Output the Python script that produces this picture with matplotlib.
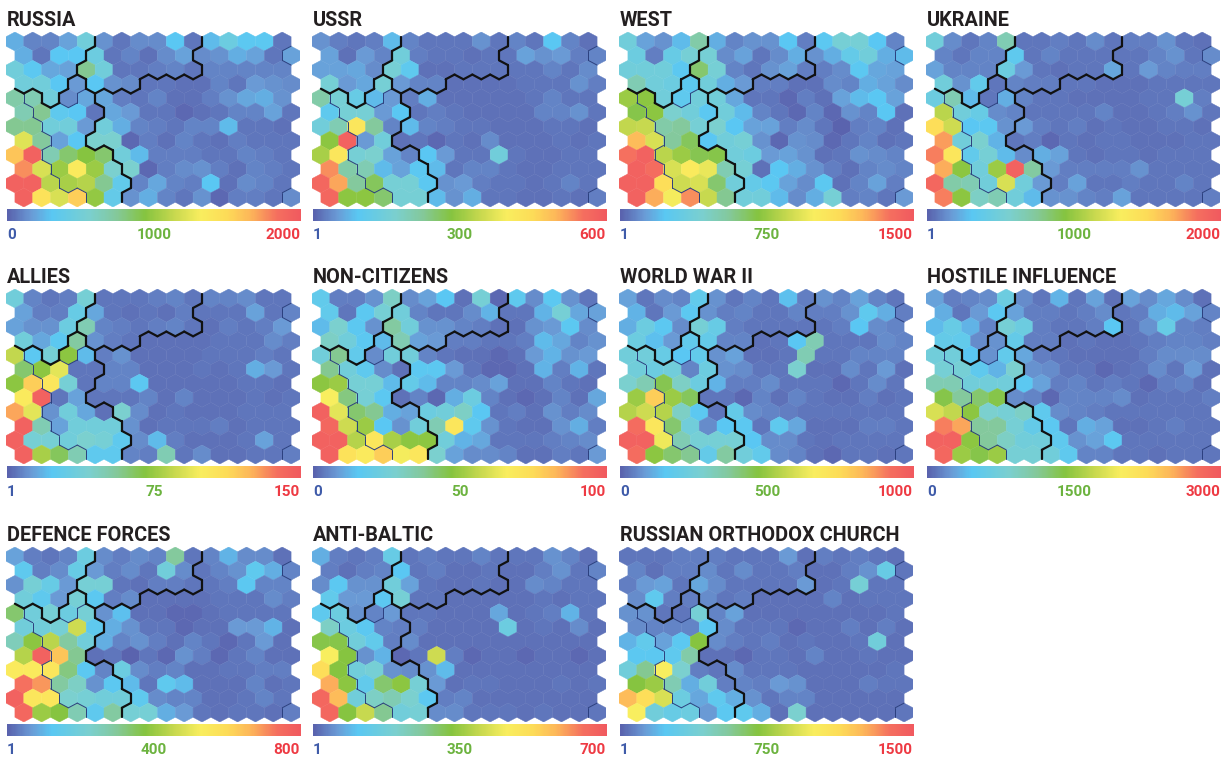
import matplotlib
matplotlib.use("Agg")
import matplotlib.pyplot as plt
import numpy as np
from matplotlib.collections import LineCollection, PolyCollection
from matplotlib.colors import LinearSegmentedColormap

russia = [
    [11, 5, 5, 9, 24, 7, 3, 6, 6, 15, 3, 13, 22, 16, 16, 3],
    [11, 3, 15, 15, 22, 3, 5, 2, 6, 9, 6, 7, 11, 9, 3, 9],
    [24, 16, 10, 9, 38, 24, 3, 3, 4, 5, 3, 5, 5, 5, 5, 5],
    [24, 24, 15, 8, 15, 7, 6, 3, 3, 2, 2, 5, 3, 8, 7, 6],
    [35, 33, 24, 6, 10, 10, 4, 3, 5, 2, 2, 4, 7, 10, 11, 7],
    [33, 38, 17, 15, 3, 10, 8, 3, 3, 1, 2, 3, 5, 5, 9, 3],
    [38, 38, 24, 24, 8, 24, 11, 5, 4, 3, 5, 5, 13, 3, 3, 2],
    [61, 37, 9, 15, 28, 28, 1, 4, 2, 5, 3, 2, 4, 3, 3, 3],
    [80, 97, 33, 42, 47, 42, 24, 13, 4, 4, 4, 3, 3, 5, 4, 3],
    [88, 60, 50, 68, 50, 28, 28, 1, 4, 6, 7, 4, 2, 5, 4, 3],
    [97, 97, 55, 52, 54, 38, 18, 5, 10, 5, 4, 15, 2, 6, 5, 3],
    [97, 72, 60, 78, 49, 19, 7, 11, 5, 3, 7, 1, 4, 4, 3, 6],
]
ussr = [
    [7, 4, 3, 4, 13, 5, 3, 3, 3, 7, 3, 5, 3, 15, 5, 2],
    [9, 2, 8, 5, 24, 4, 3, 3, 2, 3, 3, 9, 7, 8, 4, 5],
    [9, 9, 10, 6, 26, 17, 2, 2, 3, 3, 3, 3, 3, 5, 3, 6],
    [26, 8, 10, 26, 8, 5, 5, 2, 2, 2, 2, 3, 3, 3, 7, 4],
    [35, 26, 20, 13, 8, 4, 11, 2, 2, 2, 2, 2, 3, 5, 3, 3],
    [17, 26, 26, 8, 15, 3, 4, 3, 2, 2, 2, 2, 5, 5, 7, 3],
    [24, 33, 70, 37, 5, 13, 5, 4, 3, 3, 2, 2, 2, 3, 3, 2],
    [48, 97, 8, 24, 2, 3, 1, 3, 2, 6, 2, 2, 2, 3, 2, 3],
    [52, 70, 26, 28, 9, 5, 15, 8, 3, 3, 24, 3, 2, 2, 3, 3],
    [88, 35, 33, 13, 9, 16, 13, 3, 5, 5, 3, 2, 2, 3, 3, 3],
    [95, 85, 37, 44, 26, 26, 16, 7, 8, 4, 3, 3, 2, 3, 5, 3],
    [95, 48, 48, 42, 26, 26, 13, 7, 11, 3, 3, 2, 2, 3, 2, 4],
]
west = [
    [24, 9, 7, 13, 35, 11, 5, 7, 7, 15, 4, 16, 26, 26, 15, 5],
    [22, 4, 20, 26, 26, 6, 9, 3, 6, 11, 7, 11, 19, 24, 11, 13],
    [24, 24, 24, 16, 42, 26, 5, 3, 7, 9, 4, 4, 6, 16, 10, 9],
    [33, 24, 22, 16, 24, 11, 8, 4, 4, 2, 2, 6, 5, 11, 9, 6],
    [50, 48, 24, 17, 24, 24, 10, 3, 3, 1, 4, 2, 9, 13, 15, 9],
    [46, 48, 28, 24, 16, 24, 13, 5, 3, 1, 5, 1, 7, 5, 15, 2],
    [56, 57, 35, 37, 26, 28, 15, 9, 9, 4, 6, 3, 0, 4, 5, 2],
    [82, 60, 37, 44, 15, 24, 26, 7, 1, 7, 6, 1, 3, 5, 2, 3],
    [92, 97, 55, 50, 45, 46, 24, 22, 8, 9, 7, 2, 3, 7, 6, 5],
    [97, 93, 60, 68, 63, 33, 26, 2, 15, 11, 7, 4, 2, 5, 6, 5],
    [97, 97, 74, 58, 60, 42, 24, 19, 16, 9, 6, 16, 2, 5, 9, 4],
    [97, 84, 65, 88, 57, 38, 24, 24, 13, 6, 11, 26, 4, 5, 3, 8],
]
ukraine = [
    [24, 6, 3, 5, 33, 3, 3, 4, 3, 6, 3, 4, 4, 7, 3, 2],
    [5, 3, 5, 5, 17, 3, 5, 3, 3, 3, 3, 3, 5, 7, 3, 6],
    [9, 5, 5, 5, 22, 8, 3, 2, 3, 3, 10, 3, 8, 5, 4, 4],
    [24, 7, 18, 3, 5, 4, 4, 3, 3, 2, 2, 2, 3, 3, 3, 3],
    [22, 33, 13, 3, 11, 5, 3, 3, 2, 2, 2, 2, 3, 3, 26, 4],
    [55, 24, 20, 6, 5, 3, 3, 3, 3, 5, 2, 2, 3, 4, 7, 3],
    [74, 58, 15, 16, 7, 8, 4, 3, 4, 2, 3, 2, 2, 3, 3, 2],
    [86, 24, 28, 12, 3, 4, 1, 3, 2, 3, 3, 2, 2, 2, 3, 3],
    [90, 70, 18, 26, 13, 6, 11, 9, 3, 2, 3, 3, 2, 3, 3, 3],
    [84, 48, 24, 50, 97, 36, 8, 4, 4, 4, 4, 7, 3, 3, 3, 3],
    [95, 35, 33, 24, 60, 24, 8, 4, 9, 3, 3, 4, 3, 3, 5, 3],
    [90, 48, 30, 33, 24, 13, 7, 7, 5, 4, 9, 3, 3, 3, 3, 4],
]
allies = [
    [24, 5, 3, 4, 26, 3, 3, 3, 4, 5, 3, 5, 5, 6, 3, 3],
    [9, 4, 4, 20, 10, 3, 2, 3, 2, 4, 3, 3, 3, 9, 3, 5],
    [9, 7, 7, 22, 33, 5, 4, 3, 4, 5, 3, 2, 4, 3, 4, 8],
    [24, 10, 16, 36, 7, 4, 3, 2, 2, 2, 2, 3, 3, 3, 6, 4],
    [56, 16, 26, 48, 13, 4, 7, 2, 2, 2, 2, 3, 3, 3, 4, 3],
    [42, 48, 62, 3, 3, 5, 5, 2, 2, 2, 3, 2, 3, 11, 8, 3],
    [48, 78, 70, 26, 3, 5, 5, 16, 2, 2, 2, 2, 2, 3, 3, 2],
    [68, 97, 3, 9, 3, 3, 3, 5, 2, 5, 2, 2, 2, 3, 2, 3],
    [85, 62, 7, 24, 10, 2, 28, 6, 2, 3, 2, 2, 2, 3, 3, 3],
    [97, 33, 9, 24, 24, 24, 7, 2, 3, 3, 3, 4, 2, 3, 3, 3],
    [97, 26, 26, 24, 28, 26, 17, 6, 13, 4, 2, 2, 2, 3, 9, 3],
    [97, 52, 44, 33, 17, 17, 5, 4, 33, 3, 6, 2, 2, 3, 3, 4],
]
non_citizens = [
    [18, 4, 4, 7, 30, 6, 9, 15, 2, 26, 1, 17, 6, 16, 7, 3],
    [18, 3, 16, 26, 24, 5, 3, 3, 6, 12, 3, 3, 12, 26, 10, 9],
    [13, 28, 16, 7, 36, 24, 7, 7, 5, 4, 2, 2, 7, 8, 16, 6],
    [30, 24, 16, 13, 33, 9, 8, 4, 4, 3, 3, 4, 13, 10, 5, 7],
    [24, 38, 18, 6, 24, 24, 5, 3, 2, 2, 1, 2, 8, 12, 7, 8],
    [38, 24, 17, 6, 2, 16, 16, 8, 3, 1, 1, 2, 12, 4, 12, 3],
    [48, 50, 26, 26, 13, 19, 13, 5, 5, 6, 9, 2, 2, 5, 3, 2],
    [66, 40, 26, 16, 2, 5, 1, 11, 22, 5, 2, 1, 2, 5, 2, 10],
    [97, 62, 42, 38, 11, 9, 22, 24, 30, 15, 3, 4, 2, 7, 4, 6],
    [95, 58, 50, 15, 7, 24, 33, 70, 17, 7, 3, 2, 2, 7, 11, 4],
    [97, 97, 54, 70, 52, 48, 48, 24, 12, 10, 3, 3, 3, 4, 5, 6],
    [97, 72, 68, 78, 65, 70, 28, 9, 6, 6, 5, 2, 2, 4, 3, 8],
]
world_war = [
    [9, 3, 6, 5, 18, 7, 3, 5, 3, 14, 4, 7, 5, 9, 5, 3],
    [12, 3, 8, 16, 7, 4, 5, 3, 3, 5, 4, 4, 7, 17, 11, 4],
    [11, 22, 16, 6, 26, 20, 4, 3, 3, 3, 3, 3, 4, 15, 6, 5],
    [22, 14, 8, 18, 19, 5, 5, 2, 3, 15, 33, 3, 3, 3, 6, 5],
    [24, 24, 20, 15, 18, 7, 9, 2, 2, 3, 33, 3, 3, 5, 5, 5],
    [24, 22, 24, 5, 22, 7, 6, 3, 3, 28, 2, 2, 6, 3, 8, 2],
    [28, 33, 45, 30, 22, 12, 4, 4, 6, 3, 3, 3, 1, 3, 6, 3],
    [50, 78, 50, 44, 3, 3, 1, 5, 2, 5, 3, 2, 2, 4, 2, 3],
    [54, 58, 54, 30, 16, 3, 19, 6, 5, 4, 3, 3, 3, 3, 3, 3],
    [93, 70, 42, 24, 6, 15, 16, 3, 17, 10, 2, 2, 2, 4, 4, 3],
    [97, 97, 64, 33, 26, 26, 26, 15, 6, 6, 3, 2, 3, 3, 3, 3],
    [93, 48, 42, 38, 19, 36, 24, 18, 6, 5, 2, 1, 3, 3, 2, 3],
]
hostile = [
    [9, 4, 5, 6, 22, 6, 3, 12, 3, 9, 2, 9, 6, 10, 6, 2],
    [11, 3, 8, 16, 9, 4, 4, 3, 4, 6, 3, 4, 11, 13, 9, 5],
    [13, 20, 12, 5, 26, 22, 4, 3, 3, 4, 15, 3, 7, 20, 5, 4],
    [19, 18, 6, 7, 19, 4, 4, 2, 3, 2, 2, 3, 4, 5, 5, 4],
    [24, 24, 15, 7, 18, 10, 4, 3, 2, 2, 2, 2, 4, 6, 6, 6],
    [26, 26, 17, 12, 28, 7, 6, 3, 3, 1, 2, 3, 6, 3, 8, 2],
    [33, 33, 24, 24, 24, 16, 9, 4, 5, 3, 4, 3, 1, 4, 5, 2],
    [46, 37, 42, 46, 6, 5, 1, 5, 5, 5, 6, 2, 3, 3, 3, 4],
    [60, 56, 48, 28, 26, 30, 17, 6, 5, 4, 3, 3, 3, 3, 3, 3],
    [90, 85, 37, 37, 26, 19, 16, 3, 11, 9, 2, 2, 3, 4, 3, 3],
    [97, 97, 48, 37, 30, 24, 24, 17, 7, 9, 16, 3, 3, 3, 3, 3],
    [95, 50, 46, 50, 26, 26, 24, 17, 5, 5, 3, 3, 2, 3, 3, 3],
]
defence = [
    [9, 4, 3, 5, 22, 6, 4, 6, 5, 37, 3, 5, 12, 6, 6, 2],
    [17, 4, 6, 20, 8, 4, 6, 3, 24, 6, 3, 5, 7, 17, 11, 5],
    [7, 26, 20, 8, 26, 26, 3, 2, 4, 4, 3, 3, 4, 16, 5, 5],
    [24, 17, 8, 26, 16, 4, 6, 2, 2, 2, 2, 3, 3, 3, 6, 4],
    [42, 24, 26, 22, 26, 7, 14, 2, 2, 1, 1, 2, 3, 3, 3, 3],
    [24, 24, 26, 58, 17, 11, 7, 3, 3, 1, 2, 2, 8, 8, 12, 2],
    [32, 48, 55, 36, 24, 11, 5, 7, 4, 2, 5, 3, 1, 3, 8, 2],
    [54, 97, 80, 38, 2, 3, 0, 3, 1, 7, 4, 1, 3, 5, 2, 2],
    [68, 68, 70, 40, 16, 5, 22, 6, 4, 5, 2, 2, 3, 3, 4, 4],
    [92, 87, 36, 30, 7, 16, 13, 3, 17, 13, 2, 2, 2, 5, 2, 3],
    [97, 70, 70, 28, 26, 24, 24, 17, 6, 5, 5, 2, 2, 3, 5, 3],
    [95, 50, 47, 33, 17, 36, 26, 26, 11, 8, 3, 2, 3, 3, 2, 4],
]
anti_baltic = [
    [11, 4, 3, 4, 20, 3, 4, 3, 3, 5, 3, 3, 3, 7, 5, 2],
    [4, 2, 4, 5, 15, 3, 4, 2, 2, 3, 2, 2, 4, 7, 3, 5],
    [6, 16, 7, 7, 24, 9, 3, 2, 2, 3, 2, 2, 6, 5, 3, 3],
    [18, 8, 8, 16, 26, 3, 3, 2, 2, 2, 2, 2, 3, 2, 3, 3],
    [17, 22, 7, 5, 8, 3, 3, 2, 2, 2, 10, 2, 3, 4, 12, 3],
    [30, 22, 16, 5, 4, 4, 2, 2, 2, 2, 22, 2, 3, 2, 6, 2],
    [46, 46, 24, 18, 4, 6, 2, 2, 2, 2, 2, 2, 2, 2, 2, 2],
    [66, 47, 7, 12, 1, 3, 58, 4, 1, 2, 2, 1, 2, 2, 1, 2],
    [74, 47, 24, 26, 7, 6, 7, 13, 2, 2, 2, 2, 2, 2, 2, 2],
    [84, 48, 18, 42, 48, 26, 8, 2, 3, 3, 2, 2, 2, 3, 2, 3],
    [95, 82, 24, 30, 33, 28, 16, 4, 5, 2, 2, 2, 2, 2, 2, 2],
    [95, 47, 57, 38, 24, 26, 6, 6, 3, 3, 3, 2, 3, 2, 2, 3],
]
orthodox = [
    [3, 3, 3, 4, 4, 4, 3, 3, 3, 8, 2, 4, 3, 4, 3, 2],
    [5, 2, 4, 4, 6, 3, 6, 3, 3, 4, 2, 2, 4, 7, 20, 3],
    [4, 8, 9, 3, 10, 6, 3, 3, 3, 3, 8, 2, 3, 26, 3, 3],
    [6, 17, 4, 4, 6, 3, 4, 2, 2, 2, 2, 5, 2, 3, 3, 3],
    [7, 7, 3, 3, 26, 5, 9, 2, 2, 2, 2, 2, 2, 2, 2, 3],
    [6, 5, 5, 5, 16, 6, 3, 3, 3, 1, 2, 2, 4, 2, 4, 2],
    [12, 18, 9, 16, 47, 6, 4, 3, 4, 2, 3, 2, 2, 3, 24, 2],
    [16, 16, 17, 35, 2, 2, 1, 3, 3, 2, 5, 2, 2, 3, 2, 2],
    [24, 38, 66, 28, 4, 3, 6, 3, 3, 3, 2, 2, 2, 2, 2, 3],
    [47, 50, 33, 11, 24, 4, 5, 4, 8, 7, 2, 2, 2, 4, 3, 3],
    [82, 74, 60, 22, 10, 17, 11, 7, 3, 5, 5, 2, 2, 2, 2, 2],
    [66, 24, 20, 22, 8, 16, 17, 11, 2, 28, 2, 2, 2, 2, 2, 3],
]

titles = ["RUSSIA", "USSR", "WEST", "UKRAINE",
          "ALLIES", "NON-CITIZENS", "WORLD WAR II", "HOSTILE INFLUENCE",
          "DEFENCE FORCES", "ANTI-BALTIC", "RUSSIAN ORTHODOX CHURCH"]
panels = [russia, ussr, west, ukraine, allies, non_citizens, world_war, hostile,
          defence, anti_baltic, orthodox]
low_labels = ["0", "1", "1", "1", "1", "0", "0", "0", "1", "1", "1"]
mid_labels = ["1000", "300", "750", "1000", "75", "50", "500", "1500", "400", "350", "750"]
high_labels = ["2000", "600", "1500", "2000", "150", "100", "1000", "3000", "800", "700", "1500"]

# cluster of each cell on the map, same for all panels
clusters = [
    "AAAAABBBBBBCCCCC",
    "AAAABBBBBBCCCCCG",
    "AAAABBBBBBBCCCCC",
    "AAAFBBBCCCCCCCCC",
    "EDAFDCCCCCCCCCCC",
    "EDDDDCCCCCCCCCCC",
    "EEDDDCCCCCCCCCCC",
    "EEDDCCCCCCCCCCCC",
    "EEDDDDCCCCCCCCCC",
    "EEDDDDCCCCCCCCCC",
    "EEEDDDDCCCCCCCCC",
    "EEEEDDCCCCCCCCCH",
]
thin_pairs = [{"D", "E"}, {"D", "F"}, {"C", "G"}, {"C", "H"}]

colours = [(0.0, "#5a63ae"), (0.08, "#6a9bd6"), (0.15, "#5ac8f3"), (0.28, "#7bd0cf"),
           (0.37, "#84c99c"), (0.47, "#86c440"), (0.57, "#c8d94f"), (0.66, "#f9ee5f"),
           (0.75, "#fddc58"), (0.83, "#fdb75a"), (0.92, "#f5705f"), (1.0, "#f15a60")]
cmap = LinearSegmentedColormap.from_list("som", colours)

plt.rcParams["font.family"] = ["Roboto", "DejaVu Sans"]
W, H = 1225, 759
fig = plt.figure(figsize=(W / 100, H / 100), dpi=100)


def add_axes(left, top, width, height):
    return fig.add_axes([left / W, 1 - (top + height) / H, width / W, height / H])


hexagon = np.array([(0, -2 / 3), (0.5, -1 / 3), (0.5, 1 / 3), (0, 2 / 3), (-0.5, 1 / 3), (-0.5, -1 / 3)])
lefts = [6, 312, 619, 926]
tops = [32, 289, 547]
n_rows, n_cols = 12, 16

for i, (title, values) in enumerate(zip(titles, panels)):
    left = lefts[i % 4]
    top = tops[i // 4]

    ax = add_axes(left, top, 294, 175)
    ax.set_xlim(-0.5, n_cols)
    ax.set_ylim(n_rows - 1 + 2 / 3, -2 / 3)
    ax.axis("off")

    centres = {}
    polys = []
    cells = []
    for r in range(n_rows):
        for c in range(n_cols):
            centres[r, c] = np.array([c + 0.5 * (r % 2), r])
            polys.append(hexagon + centres[r, c])
            cells.append(values[r][c])
    ax.add_collection(PolyCollection(polys, array=np.array(cells), cmap=cmap, clim=(0, 100),
                                     edgecolors="face", linewidths=0.3))

    # borders between clusters, on the edge shared by two neighbouring cells
    thick, thin = [], []
    for (r, c), centre in centres.items():
        shift = r % 2
        for dr, dc, a, b in [(0, 1, 1, 2), (1, shift - 1, 5, 0), (1, shift, 0, 1)]:
            other = (r + dr, c + dc)
            if other not in centres or clusters[r][c] == clusters[other[0]][other[1]]:
                continue
            # y axis points down, so vertex 0 is drawn on top: mirror to get the lower edge
            verts = hexagon * ([1, -1] if dr else [1, 1]) + centre
            seg = [verts[a], verts[b]]
            if {clusters[r][c], clusters[other[0]][other[1]]} in thin_pairs:
                thin.append(seg)
            else:
                thick.append(seg)
    ax.add_collection(LineCollection(thin, colors="#2b3f7e", linewidths=0.7, capstyle="round"))
    ax.add_collection(LineCollection(thick, colors="#111111", linewidths=1.6, capstyle="round"))

    cb = add_axes(left + 1, top + 177, 294, 12)
    cb.imshow(np.linspace(0, 1, 300)[None, :], cmap=cmap, aspect="auto")
    cb.axis("off")

    fig.text((left + 1) / W, 1 - (top - 6) / H, title, fontsize=14.3, fontweight="bold",
             color="#231f20", ha="left", va="baseline")
    label_y = 1 - (top + 207) / H
    fig.text((left + 1) / W, label_y, low_labels[i], color="#3f5ba9", fontsize=11,
             fontweight="bold", ha="left", va="baseline")
    fig.text((left + 148) / W, label_y, mid_labels[i], color="#6cb33f", fontsize=11,
             fontweight="bold", ha="center", va="baseline")
    fig.text((left + 294) / W, label_y, high_labels[i], color="#ee3a43", fontsize=11,
             fontweight="bold", ha="right", va="baseline")

fig.savefig("out.png", dpi=100)
